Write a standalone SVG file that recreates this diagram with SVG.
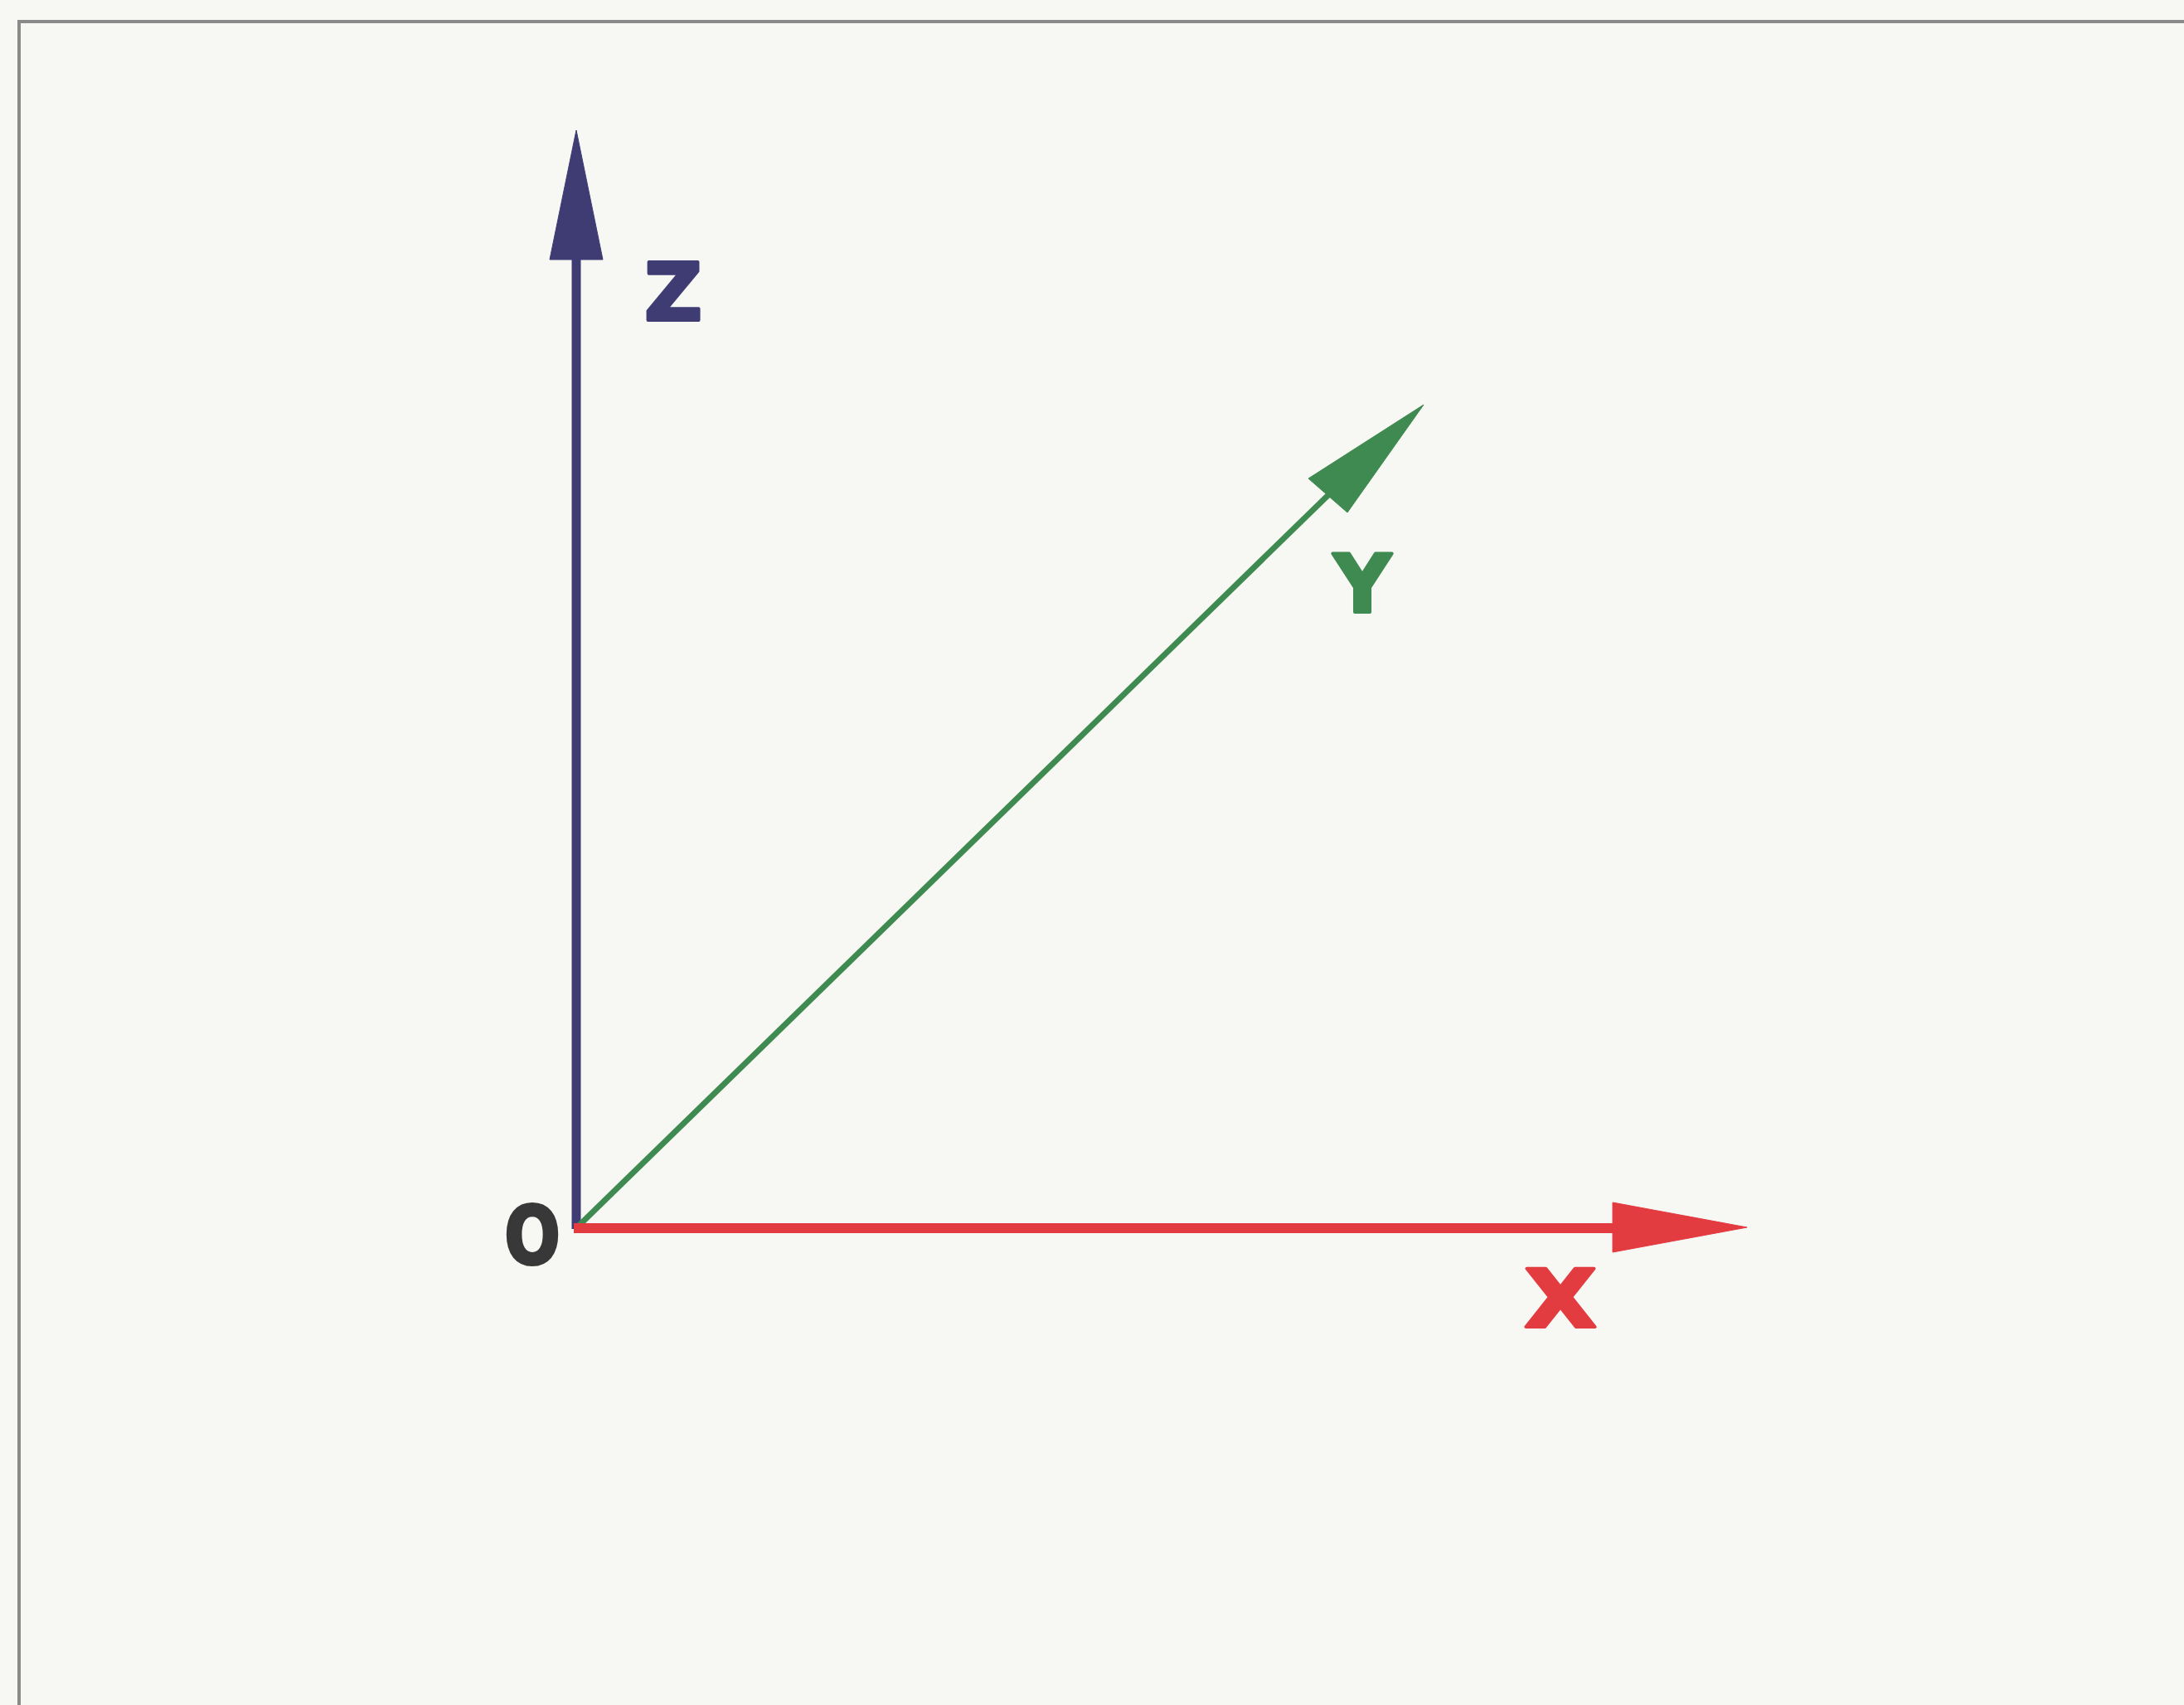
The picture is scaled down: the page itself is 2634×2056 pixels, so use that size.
<svg xmlns="http://www.w3.org/2000/svg" width="2634" height="2056" viewBox="0 0 2634 2056">
<style>
.lbl{font-family:"DejaVu Sans","Liberation Sans",sans-serif;font-weight:bold;font-size:96px;text-anchor:middle;stroke-width:4;stroke-linejoin:round}
.z{stroke:#3f3c74;fill:#3f3c74}
.y{stroke:#3f8a50;fill:#3f8a50}
.x{stroke:#e23b40;fill:#e23b40}
.o{stroke:#383838;fill:#383838}
</style>
<rect width="2634" height="2056" fill="#f7f7f4"/>
<path d="M23 2056 V26 H2634" fill="none" stroke="#8a8a8a" stroke-width="4"/>
<g id="connectors">
<g id="axis-z">
<line class="z" x1="695" y1="1482" x2="695" y2="310" stroke-width="11"/>
<polygon class="z" stroke="none" points="695,157 663,313 727,313"/>
</g>
<g id="axis-y">
<line class="y" x1="697" y1="1479" x2="1605" y2="594" stroke-width="7"/>
<polygon class="y" stroke="none" points="1717,488 1578,577 1625,618"/>
</g>
<g id="axis-x">
<line class="x" x1="692" y1="1481" x2="1950" y2="1481" stroke-width="12"/>
<polygon class="x" stroke="none" points="2107,1480 1945,1450 1945,1510"/>
</g>
</g>
<g id="label-z"><text class="lbl z" x="812" y="386">Z</text></g>
<g id="label-y"><text class="lbl y" x="1643" y="738">Y</text></g>
<g id="label-x"><text class="lbl x" x="1882" y="1600" textLength="87" lengthAdjust="spacingAndGlyphs">X</text></g>
<g id="label-o"><text class="lbl o" x="642" y="1524" textLength="67" lengthAdjust="spacingAndGlyphs">O</text></g>
</svg>
